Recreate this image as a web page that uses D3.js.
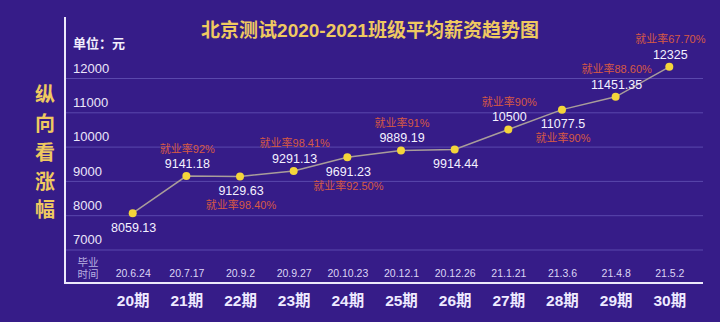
<!DOCTYPE html>
<html>
<head>
<meta charset="utf-8">
<script src="https://cdn.jsdelivr.net/npm/d3@7/dist/d3.min.js"></script>
<style>
  html, body { margin: 0; padding: 0; background: #361c88; }
  svg { display: block; }
  text { font-family: "Liberation Sans", Arial, "Noto Sans CJK SC", sans-serif; }
</style>
</head>
<body>
<svg id="chart" width="720" height="322"></svg>
<script>
// Class cohorts, graduation dates, average salary (元) and employment rate
const periods = ["20期", "21期", "22期", "23期", "24期", "25期", "26期", "27期", "28期", "29期", "30期"];
const gradDates = ["20.6.24", "20.7.17", "20.9.2", "20.9.27", "20.10.23", "20.12.1", "20.12.26", "21.1.21", "21.3.6", "21.4.8", "21.5.2"];
const salaries = [8059.13, 9141.18, 9129.63, 9291.13, 9691.23, 9889.19, 9914.44, 10500, 11077.5, 11451.35, 12325];
const salaryLabels = ["8059.13", "9141.18", "9129.63", "9291.13", "9691.23", "9889.19", "9914.44", "10500", "11077.5", "11451.35", "12325"];
const employRates = [null, "92%", "98.40%", "98.41%", "92.50%", "91%", null, "90%", "90%", "88.60%", "67.70%"];
const yTicks = [7000, 8000, 9000, 10000, 11000, 12000];

// Which labels sit above their point (layout only)
const labelAbove = [false, true, false, true, false, true, false, true, false, true, true];

const svg = d3.select("#chart");
const axisX = 65, plotRight = 703, axisBottom = 283;

const x = d3.scalePoint().domain(periods).range([132.7, 669.3]);
const y = d3.scaleLinear().domain([7000, 12000]).range([249.5, 78]);

// Title
svg.append("text")
  .attr("x", 370).attr("y", 37)
  .attr("text-anchor", "middle")
  .attr("fill", "#efc960")
  .attr("font-size", 19).attr("font-weight", "bold")
  .attr("font-family", "'Noto Sans CJK SC', sans-serif")
  .text("北京测试2020-2021班级平均薪资趋势图");

// Vertical side caption
const side = "纵向看涨幅".split("");
svg.append("g").selectAll("text").data(side).join("text")
  .attr("x", 45)
  .attr("y", (d, i) => 95 + i * 28.8)
  .attr("dy", "0.36em")
  .attr("text-anchor", "middle")
  .attr("fill", "#efc960")
  .attr("font-size", 20).attr("font-weight", "bold")
  .attr("font-family", "'Noto Sans CJK SC', sans-serif")
  .text(d => d);

// Unit label
svg.append("text")
  .attr("x", 73).attr("y", 43).attr("dy", "0.36em")
  .attr("fill", "#f2eefc")
  .attr("font-size", 13).attr("font-weight", "bold")
  .attr("font-family", "'Noto Sans CJK SC', sans-serif")
  .text("单位：元");

// Gridlines and y tick labels
const yAxis = d3.axisLeft(y)
  .tickValues(yTicks)
  .tickSize(-(plotRight - axisX))
  .tickFormat(d3.format("d"));
const gy = svg.append("g").attr("transform", `translate(${axisX},0)`).call(yAxis);
gy.select(".domain").remove();
gy.selectAll(".tick line").attr("stroke", "#5b48ad").attr("stroke-width", 1);
gy.selectAll(".tick text")
  .attr("x", 8).attr("dy", "-0.45em")
  .attr("text-anchor", "start")
  .attr("fill", "#ebe6fa")
  .attr("font-size", 13)
  .attr("font-family", "'Liberation Sans', Arial, sans-serif");

// Frame lines: left axis and bottom axis
svg.append("line")
  .attr("x1", axisX).attr("x2", axisX).attr("y1", 17).attr("y2", axisBottom + 1)
  .attr("stroke", "#ece8fb").attr("stroke-width", 2);
svg.append("line")
  .attr("x1", axisX - 1).attr("x2", plotRight).attr("y1", axisBottom).attr("y2", axisBottom)
  .attr("stroke", "#ece8fb").attr("stroke-width", 2);

// "毕业时间" row caption
svg.append("g").selectAll("text").data(["毕业", "时间"]).join("text")
  .attr("x", 88).attr("y", (d, i) => 262 + i * 12)
  .attr("dy", "0.36em")
  .attr("text-anchor", "middle")
  .attr("fill", "#b8b0e0")
  .attr("font-size", 10.5)
  .attr("font-family", "'Noto Sans CJK SC', sans-serif")
  .text(d => d);

// Graduation dates and cohort names along the bottom
const xAxisDates = d3.axisBottom(x).tickSize(0).tickPadding(0).tickFormat((d, i) => gradDates[i]);
const gd = svg.append("g").attr("transform", "translate(0,273)").call(xAxisDates);
gd.select(".domain").remove();
gd.selectAll(".tick text")
  .attr("y", 0).attr("dy", "0.36em")
  .attr("fill", "#dcd5f5")
  .attr("font-size", 10.5)
  .attr("font-family", "'Liberation Sans', Arial, sans-serif");

const xAxisPeriods = d3.axisBottom(x).tickSize(0).tickPadding(0);
const gp = svg.append("g").attr("transform", "translate(0,300)").call(xAxisPeriods);
gp.select(".domain").remove();
gp.selectAll(".tick text")
  .attr("y", 0).attr("dy", "0.36em")
  .attr("fill", "#eeeaff")
  .attr("font-size", 15.5).attr("font-weight", "bold")
  .attr("font-family", "'Liberation Sans', Arial, 'Noto Sans CJK SC', sans-serif");

// Salary trend line
const line = d3.line().x((d, i) => x(periods[i])).y(d => y(d));
svg.append("path")
  .datum(salaries)
  .attr("d", line)
  .attr("fill", "none")
  .attr("stroke", "#a99d9a")
  .attr("stroke-width", 1.5);

// Points
svg.append("g").selectAll("circle").data(salaries).join("circle")
  .attr("cx", (d, i) => x(periods[i]))
  .attr("cy", d => y(d))
  .attr("r", 4)
  .attr("fill", "#f4d53a");

// Salary value labels
svg.append("g").selectAll("text").data(salaries).join("text")
  .attr("x", (d, i) => x(periods[i]) + 1)
  .attr("y", (d, i) => y(d) + (labelAbove[i] ? -12.5 : 14))
  .attr("dy", "0.36em")
  .attr("text-anchor", "middle")
  .attr("fill", "#f4f1ff")
  .attr("font-size", 12.5)
  .text((d, i) => salaryLabels[i]);

// Employment rate labels (cohorts without a rate are skipped)
const rateItems = employRates
  .map((rate, i) => ({ rate, i }))
  .filter(d => d.rate !== null);
svg.append("g").selectAll("text").data(rateItems).join("text")
  .attr("x", d => x(periods[d.i]) + 1)
  .attr("y", d => y(salaries[d.i]) + (labelAbove[d.i] ? -27.5 : 28.5))
  .attr("dy", "0.36em")
  .attr("text-anchor", "middle")
  .attr("fill", "#d65a44")
  .attr("font-size", 11)
  .text(d => "就业率" + d.rate);
</script>
</body>
</html>
